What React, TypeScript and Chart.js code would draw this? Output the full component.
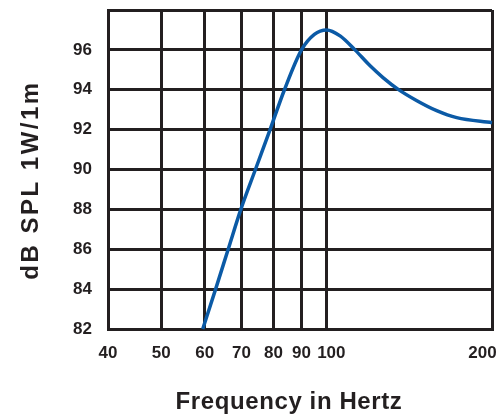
import React, { useEffect, useRef } from "react";
import { Chart, registerables } from "chart.js";

Chart.register(...registerables);

const freqs = [59.5, 62.8, 66.2, 69.8, 74.2, 78.9, 83.8, 90, 95, 100, 105.8, 112.6, 120, 126.8, 135, 146, 158.6, 172.5, 200];
const spl = [82, 84, 86, 88, 90, 92, 94, 96, 96.78, 97, 96.7, 96, 95.2, 94.6, 94.02, 93.45, 92.95, 92.6, 92.35];
const xTicks = [40, 50, 60, 70, 80, 90, 100, 200];
const xTickLabels = ["40", "50", "60", "70", "80", "90", "  100", "200    "];
const yTicks = [82, 84, 86, 88, 90, 92, 94, 96, 98];
const yTickLabels = [82, 84, 86, 88, 90, 92, 94, 96];
const xTitle = "Frequency in Hertz";
const yTitle = "dB SPL 1W/1m";

const INK = "#231f20";
const BLUE = "#0b5aa6";
const FONT = "'Liberation Sans', Arial, Helvetica, sans-serif";

const titlePlugin = {
  id: "axisTitles",
  afterDraw(chart: any) {
    const ctx = chart.ctx;
    ctx.save();
    ctx.fillStyle = INK;
    ctx.font = `bold 24px ${FONT}`;
    ctx.textAlign = "center";
    ctx.textBaseline = "middle";
    try { ctx.letterSpacing = "0.6px"; } catch (e) {}
    ctx.fillText(xTitle, 289, 402);
    try { ctx.letterSpacing = "2.5px"; } catch (e) {}
    ctx.translate(31, 180);
    ctx.rotate(-Math.PI / 2);
    ctx.fillText(yTitle, 0, 0);
    ctx.restore();
  },
};

export default function App() {
  const ref = useRef<HTMLCanvasElement | null>(null);
  useEffect(() => {
    if (!ref.current) return;
    const chart = new Chart(ref.current, {
      type: "scatter",
      data: {
        datasets: [
          {
            data: freqs.map((f, i) => ({ x: f, y: spl[i] })),
            showLine: true,
            borderColor: BLUE,
            borderWidth: 3.5,
            pointRadius: 0,
            cubicInterpolationMode: "monotone",
            fill: false,
            clip: false,
          },
        ],
      },
      options: {
        animation: false,
        responsive: false,
        maintainAspectRatio: false,
        layout: { padding: { left: 0, right: 10, top: 10, bottom: 0 } },
        plugins: { legend: { display: false }, tooltip: { enabled: false } },
        scales: {
          x: {
            type: "logarithmic",
            min: 40,
            max: 200,
            afterBuildTicks: (s: any) => {
              s.ticks = xTicks.map((v) => ({ value: v }));
            },
            afterFit: (s: any) => {
              s.height = 85;
              s.paddingLeft = 0;
              s.paddingRight = 0;
            },
            ticks: {
              autoSkip: false,
              maxRotation: 0,
              padding: 14,
              color: INK,
              font: { family: FONT, size: 17, weight: "bold" },
              callback: (v: any) => {
                const i = xTicks.indexOf(v);
                return i >= 0 ? xTickLabels[i] : "";
              },
            },
            grid: { color: INK, lineWidth: 3, drawTicks: false },
            border: { display: true, color: INK, width: 3 },
          },
          y: {
            min: 82,
            max: 98,
            afterBuildTicks: (s: any) => {
              s.ticks = yTicks.map((v) => ({ value: v }));
            },
            afterFit: (s: any) => {
              s.width = 108;
              s.paddingTop = 0;
              s.paddingBottom = 0;
            },
            ticks: {
              autoSkip: false,
              padding: 16,
              color: INK,
              font: { family: FONT, size: 17, weight: "bold" },
              callback: (v: any) => (yTickLabels.includes(v) ? String(v) : ""),
            },
            grid: { color: INK, lineWidth: 3, drawTicks: false },
            border: { display: true, color: INK, width: 3 },
          },
        },
      },
      plugins: [titlePlugin],
    } as any);
    return () => chart.destroy();
  }, []);
  return (
    <div style={{ position: "fixed", left: 0, top: 0, width: 502, height: 414, background: "#fff" }}>
      <canvas ref={ref} width={502} height={414} style={{ width: 502, height: 414 }} />
    </div>
  );
}
